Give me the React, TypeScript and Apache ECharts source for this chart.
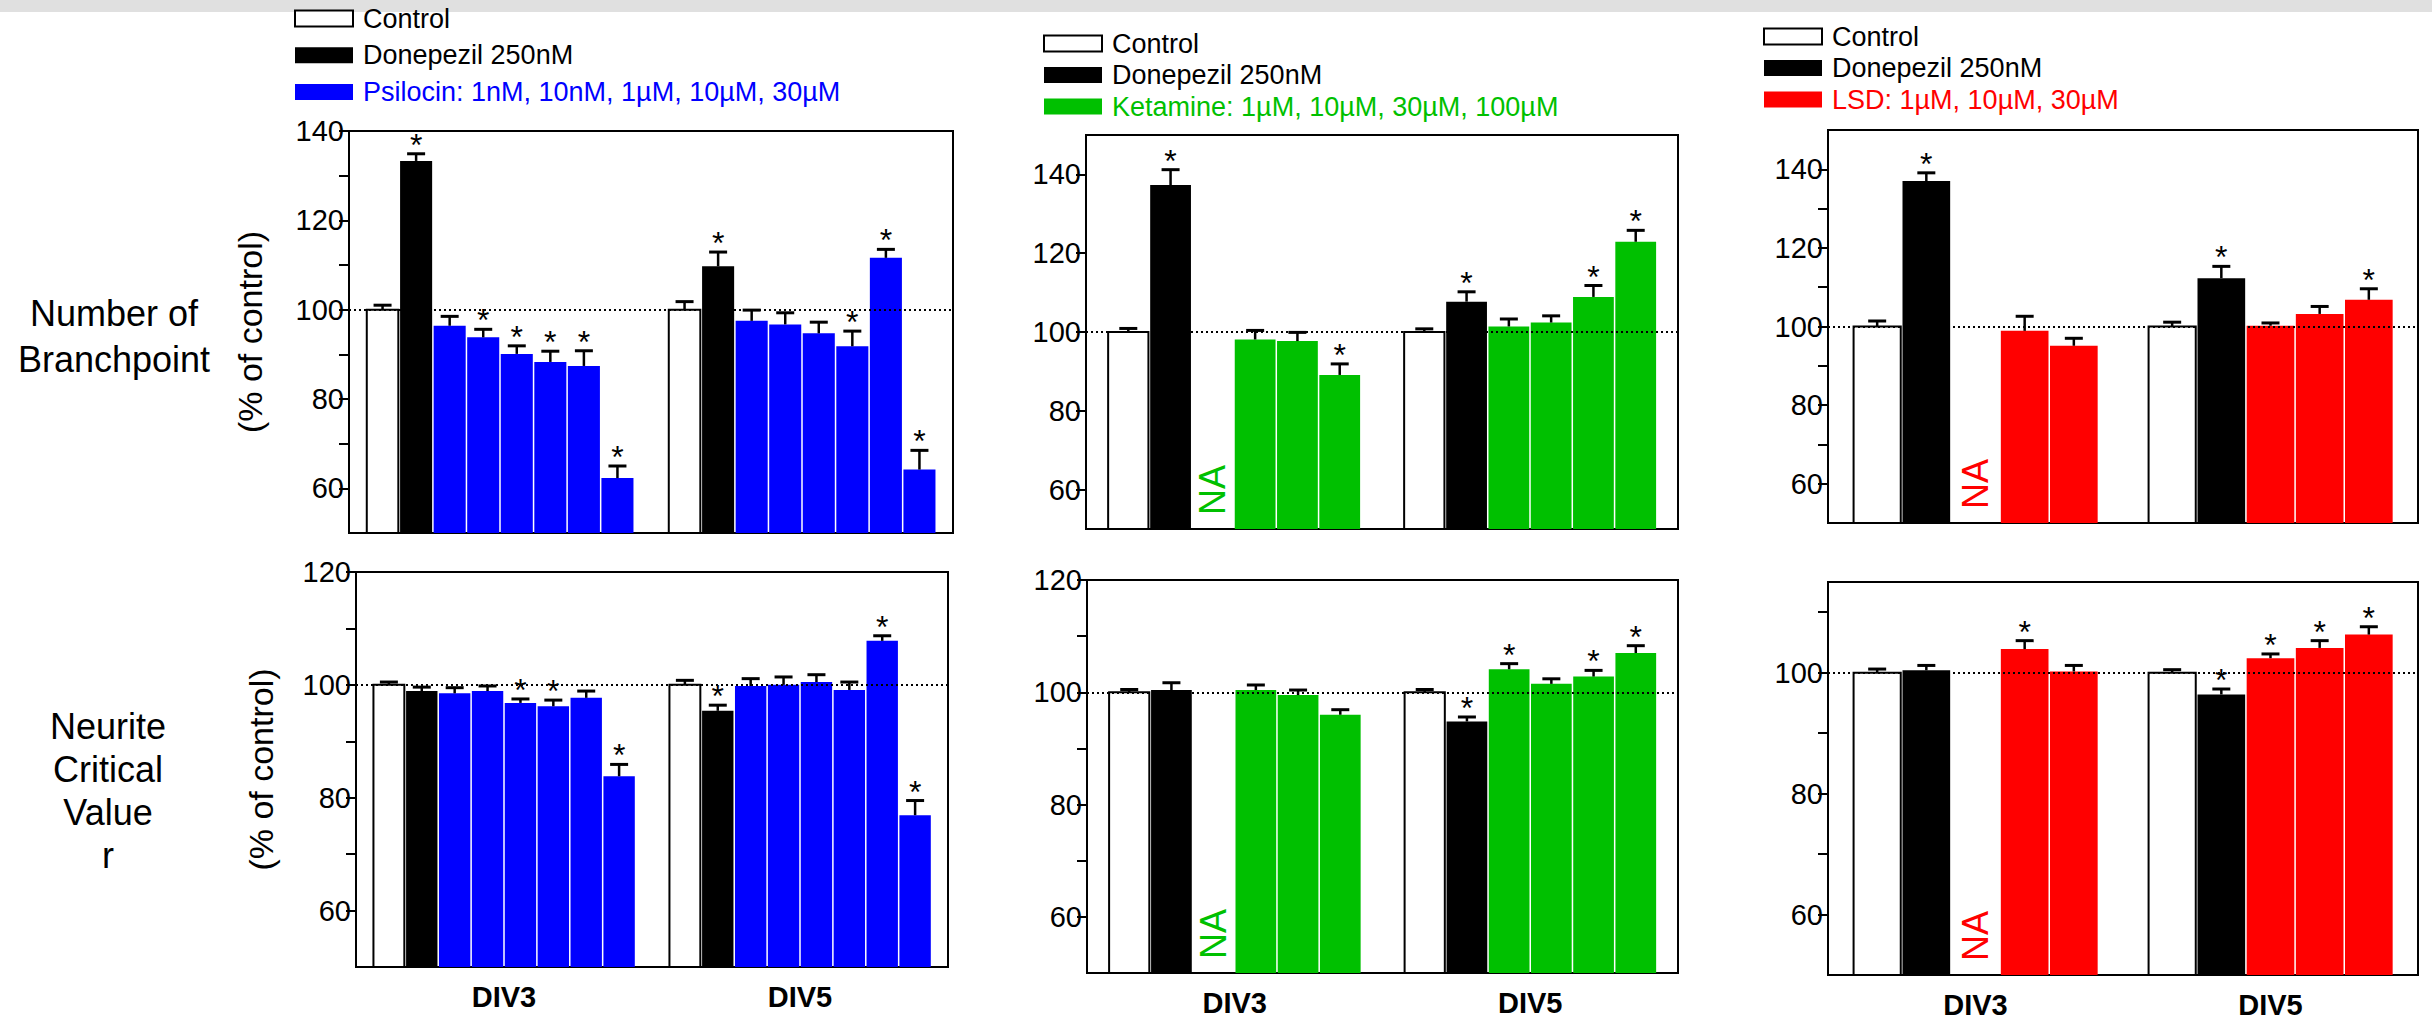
import React, { useEffect, useRef } from 'react';
import * as echarts from 'echarts';

const FONT = 'Liberation Sans, Arial, Helvetica, sans-serif';

// ---- text ----
const groupLabels = ['DIV3', 'DIV5'];
const legendControl = 'Control';
const legendDonepezil = 'Donepezil 250nM';
const legendPsilocin = 'Psilocin: 1nM, 10nM, 1µM, 10µM, 30µM';
const legendKetamine = 'Ketamine: 1µM, 10µM, 30µM, 100µM';
const legendLSD = 'LSD: 1µM, 10µM, 30µM';
const rowLabelTop = 'Number of\nBranchpoint';
const rowLabelBottom = 'Neurite\nCritical\nValue\nr';
const yAxisTitle = '(% of control)';
const naText = 'NA';

// ---- colours ----
const BLUE = '#0000ff';
const GREEN = '#00c000';
const RED = '#ff0000';

// ---- tick values ----
const ticksBranchPsi = [60, 70, 80, 90, 100, 110, 120, 130, 140];
const labelsBranchPsi = [60, 80, 100, 120, 140];
const ticksBranchKet = [60, 80, 100, 120, 140];
const labelsBranchKet = [60, 80, 100, 120, 140];
const ticksBranchLsd = [60, 70, 80, 90, 100, 110, 120, 130, 140];
const labelsBranchLsd = [60, 80, 100, 120, 140];
const ticksNcv = [60, 70, 80, 90, 100, 110, 120];
const labelsNcv = [60, 80, 100, 120];
const ticksNcvLsd = [60, 70, 80, 90, 100, 110];
const labelsNcvLsd = [60, 80, 100];

// ---- Psilocin: number of branchpoints ----
const psiBranchDIV3 = [100, 133.3, 96.4, 93.8, 90.1, 88.3, 87.4, 62.3];
const psiBranchDIV3Err = [1.0, 1.6, 2.1, 1.8, 1.8, 2.4, 3.4, 2.7];
const psiBranchDIV3Sig = [0, 1, 0, 1, 1, 1, 1, 1];
const psiBranchDIV5 = [100, 109.7, 97.5, 96.7, 94.7, 91.8, 111.6, 64.2];
const psiBranchDIV5Err = [1.8, 3.2, 2.4, 2.6, 2.5, 3.4, 1.9, 4.3];
const psiBranchDIV5Sig = [0, 1, 0, 0, 0, 1, 1, 1];

// ---- Psilocin: neurite critical value ----
const psiNcvDIV3 = [100, 98.9, 98.5, 98.9, 96.8, 96.2, 97.7, 83.8];
const psiNcvDIV3Err = [0.5, 0.7, 1.0, 0.9, 0.7, 1.1, 1.2, 2.1];
const psiNcvDIV3Sig = [0, 0, 0, 0, 1, 1, 0, 1];
const psiNcvDIV5 = [100, 95.4, 99.8, 100.0, 100.5, 99.1, 107.8, 76.9];
const psiNcvDIV5Err = [0.8, 1.0, 1.3, 1.4, 1.3, 1.4, 0.9, 2.6];
const psiNcvDIV5Sig = [0, 1, 0, 0, 0, 0, 1, 1];

// ---- Ketamine: number of branchpoints (null = NA) ----
const ketBranchDIV3 = [100, 137.3, null, 98.1, 97.7, 89.1];
const ketBranchDIV3Err = [0.9, 3.9, 0, 2.3, 2.2, 2.8];
const ketBranchDIV3Sig = [0, 1, 0, 0, 0, 1];
const ketBranchDIV5 = [100, 107.7, 101.4, 102.4, 108.9, 122.9];
const ketBranchDIV5Err = [0.8, 2.5, 1.9, 1.7, 2.9, 2.9];
const ketBranchDIV5Sig = [0, 1, 0, 0, 1, 1];

// ---- Ketamine: neurite critical value ----
const ketNcvDIV3 = [100, 100.4, null, 100.4, 99.5, 96.0];
const ketNcvDIV3Err = [0.5, 1.3, 0, 0.9, 0.9, 0.9];
const ketNcvDIV3Sig = [0, 0, 0, 0, 0, 0];
const ketNcvDIV5 = [100, 94.8, 104.1, 101.5, 102.8, 107.0];
const ketNcvDIV5Err = [0.5, 0.8, 1.0, 0.9, 1.1, 1.3];
const ketNcvDIV5Sig = [0, 1, 1, 0, 1, 1];

// ---- LSD: number of branchpoints ----
const lsdBranchDIV3 = [100, 137.0, null, 98.9, 95.1];
const lsdBranchDIV3Err = [1.4, 2.1, 0, 3.7, 1.9];
const lsdBranchDIV3Sig = [0, 1, 0, 0, 0];
const lsdBranchDIV5 = [100, 112.3, 100.2, 103.2, 106.8];
const lsdBranchDIV5Err = [1.1, 3.0, 0.7, 1.9, 2.8];
const lsdBranchDIV5Sig = [0, 1, 0, 0, 1];

// ---- LSD: neurite critical value ----
const lsdNcvDIV3 = [100, 100.4, null, 103.9, 100.2];
const lsdNcvDIV3Err = [0.6, 0.8, 0, 1.4, 1.0];
const lsdNcvDIV3Sig = [0, 0, 0, 1, 0];
const lsdNcvDIV5 = [100, 96.4, 102.4, 104.1, 106.3];
const lsdNcvDIV5Err = [0.5, 0.9, 0.7, 1.2, 1.3];
const lsdNcvDIV5Sig = [0, 1, 1, 1, 1];

type Panel = {
  grid: { left: number; top: number; width: number; height: number };
  yMin: number;
  yMax: number;
  ticks: number[];
  labels: number[];
  color: string;
  d3: (number | null)[];
  e3: number[];
  s3: number[];
  d5: (number | null)[];
  e5: number[];
  s5: number[];
  bottom: boolean;
  yName: boolean;
  nameGap?: number;
};

const panels: Panel[] = [
  { grid: { left: 349, top: 131, width: 604, height: 402 }, yMin: 50, yMax: 140, ticks: ticksBranchPsi, labels: labelsBranchPsi, color: BLUE,
    d3: psiBranchDIV3, e3: psiBranchDIV3Err, s3: psiBranchDIV3Sig, d5: psiBranchDIV5, e5: psiBranchDIV5Err, s5: psiBranchDIV5Sig, bottom: false, yName: true, nameGap: 82 },
  { grid: { left: 1086, top: 135, width: 592, height: 394 }, yMin: 50, yMax: 150, ticks: ticksBranchKet, labels: labelsBranchKet, color: GREEN,
    d3: ketBranchDIV3, e3: ketBranchDIV3Err, s3: ketBranchDIV3Sig, d5: ketBranchDIV5, e5: ketBranchDIV5Err, s5: ketBranchDIV5Sig, bottom: false, yName: false },
  { grid: { left: 1828, top: 130, width: 590, height: 393 }, yMin: 50, yMax: 150, ticks: ticksBranchLsd, labels: labelsBranchLsd, color: RED,
    d3: lsdBranchDIV3, e3: lsdBranchDIV3Err, s3: lsdBranchDIV3Sig, d5: lsdBranchDIV5, e5: lsdBranchDIV5Err, s5: lsdBranchDIV5Sig, bottom: false, yName: false },
  { grid: { left: 356, top: 572, width: 592, height: 395 }, yMin: 50, yMax: 120, ticks: ticksNcv, labels: labelsNcv, color: BLUE,
    d3: psiNcvDIV3, e3: psiNcvDIV3Err, s3: psiNcvDIV3Sig, d5: psiNcvDIV5, e5: psiNcvDIV5Err, s5: psiNcvDIV5Sig, bottom: true, yName: true, nameGap: 78 },
  { grid: { left: 1087, top: 580, width: 591, height: 393 }, yMin: 50, yMax: 120, ticks: ticksNcv, labels: labelsNcv, color: GREEN,
    d3: ketNcvDIV3, e3: ketNcvDIV3Err, s3: ketNcvDIV3Sig, d5: ketNcvDIV5, e5: ketNcvDIV5Err, s5: ketNcvDIV5Sig, bottom: true, yName: false },
  { grid: { left: 1828, top: 582, width: 590, height: 394 }, yMin: 50, yMax: 115, ticks: ticksNcvLsd, labels: labelsNcvLsd, color: RED,
    d3: lsdNcvDIV3, e3: lsdNcvDIV3Err, s3: lsdNcvDIV3Sig, d5: lsdNcvDIV5, e5: lsdNcvDIV5Err, s5: lsdNcvDIV5Sig, bottom: true, yName: false },
];

function buildData(p: Panel) {
  const n = p.d3.length;
  const out: number[][] = [];
  p.d3.forEach((v, i) => out.push([1 + i, v == null ? p.yMin : v, p.e3[i], p.s3[i], i, v == null ? 1 : 0]));
  p.d5.forEach((v, i) => out.push([n + 2 + i, v == null ? p.yMin : v, p.e5[i], p.s5[i], i, v == null ? 1 : 0]));
  return out;
}

function makeRenderItem(p: Panel) {
  return (params: any, api: any) => {
    const x = api.value(0);
    const v = api.value(1);
    const err = api.value(2);
    const sig = api.value(3);
    const k = api.value(4);
    const na = api.value(5);
    const base = api.coord([x, p.yMin]);
    if (na) {
      return {
        type: 'text',
        x: base[0],
        y: base[1] - 14,
        rotation: Math.PI / 2,
        style: { text: naText, fill: p.color, fontSize: 36, fontFamily: FONT, align: 'left', verticalAlign: 'middle' },
      };
    }
    const tl = api.coord([x - 0.5, v]);
    const br = api.coord([x + 0.5, p.yMin]);
    const cx = (tl[0] + br[0]) / 2;
    const top = tl[1];
    const capY = api.coord([x, v + err])[1];
    const children: any[] = [];
    if (k === 0) {
      children.push({ type: 'rect', shape: { x: tl[0] + 1, y: top, width: br[0] - tl[0] - 2, height: br[1] - top },
        style: { fill: '#fff', stroke: '#000', lineWidth: 2 } });
    } else {
      children.push({ type: 'rect', shape: { x: tl[0] + 0.75, y: top, width: br[0] - tl[0] - 1.5, height: br[1] - top },
        style: { fill: k === 1 ? '#000' : p.color } });
    }
    children.push({ type: 'line', shape: { x1: cx, y1: top, x2: cx, y2: capY }, style: { stroke: '#000', lineWidth: 2.5 } });
    children.push({ type: 'line', shape: { x1: cx - 9, y1: capY, x2: cx + 9, y2: capY }, style: { stroke: '#000', lineWidth: 3 } });
    if (sig) {
      children.push({ type: 'text', x: cx, y: capY - 9,
        style: { text: '*', fill: '#000', fontSize: 32, fontFamily: FONT, align: 'center', verticalAlign: 'middle' } });
    }
    return { type: 'group', children };
  };
}

function buildOption() {
  const grid: any[] = [];
  const xAxis: any[] = [];
  const yAxis: any[] = [];
  const series: any[] = [];
  panels.forEach((p, i) => {
    const n = p.d3.length;
    const xMax = 2 * n + 2;
    grid.push({ ...p.grid, show: true, borderColor: '#000', borderWidth: 2, containLabel: false });
    xAxis.push({
      type: 'value', gridIndex: i, min: 0, max: xMax,
      axisLine: { show: true, lineStyle: { color: '#000', width: 2 } },
      axisTick: { show: false },
      splitLine: { show: false },
      axisLabel: {
        show: p.bottom,
        customValues: [(n + 1) / 2, (3 * n + 3) / 2],
        formatter: (val: number) => (val < n + 1 ? groupLabels[0] : groupLabels[1]),
        fontSize: 29, fontWeight: 'bold', fontFamily: FONT, color: '#000', margin: 15,
      },
    });
    yAxis.push({
      type: 'value', gridIndex: i, min: p.yMin, max: p.yMax,
      name: p.yName ? yAxisTitle : '',
      nameLocation: 'middle', nameRotate: 90, nameGap: p.nameGap || 78,
      nameTextStyle: { fontSize: 34, fontFamily: FONT, color: '#000' },
      axisLine: { show: true, lineStyle: { color: '#000', width: 2 } },
      axisTick: { show: true, customValues: p.ticks, length: 10, lineStyle: { color: '#000', width: 2 } },
      axisLabel: { customValues: p.labels, fontSize: 29, fontFamily: FONT, color: '#000', margin: 5 },
      splitLine: { show: false },
    });
    series.push({
      type: 'line', xAxisIndex: i, yAxisIndex: i, data: [], z: 1, silent: true,
      markLine: {
        silent: true, symbol: 'none', label: { show: false },
        lineStyle: { type: [2, 3], color: '#000', width: 2 },
        data: [{ yAxis: 100 }],
      },
    });
    series.push({
      type: 'custom', xAxisIndex: i, yAxisIndex: i, z: 3, silent: true, clip: false,
      renderItem: makeRenderItem(p),
      encode: { x: 0, y: 1 },
      data: buildData(p),
    });
  });

  // series used only as legend entries
  const legendSeries = [
    { name: legendControl, itemStyle: { color: '#fff', borderColor: '#000', borderWidth: 2 } },
    { name: legendDonepezil, itemStyle: { color: '#000' } },
    { name: legendPsilocin, itemStyle: { color: BLUE } },
    { name: legendKetamine, itemStyle: { color: GREEN } },
    { name: legendLSD, itemStyle: { color: RED } },
  ];
  legendSeries.forEach((s) => series.push({ type: 'bar', xAxisIndex: 0, yAxisIndex: 0, data: [], ...s }));

  const legendBase = {
    orient: 'vertical', padding: 0, itemWidth: 58, itemHeight: 16, icon: 'rect', selectedMode: false,
    textStyle: { fontSize: 27, lineHeight: 27, fontFamily: FONT, color: '#000', padding: [0, 0, 0, 5] },
  };
  const ctrlItem = { name: legendControl, itemStyle: { color: '#fff', borderColor: '#000', borderWidth: 2 } };
  const donItem = { name: legendDonepezil };
  const legend = [
    { ...legendBase, left: 294, top: 5, itemGap: 9.7, data: [ctrlItem, donItem, { name: legendPsilocin, textStyle: { color: BLUE } }] },
    { ...legendBase, left: 1043, top: 30, itemGap: 4.5, data: [ctrlItem, donItem, { name: legendKetamine, textStyle: { color: GREEN } }] },
    { ...legendBase, left: 1763, top: 23, itemGap: 4.5, data: [ctrlItem, donItem, { name: legendLSD, textStyle: { color: RED } }] },
  ];

  return {
    animation: false,
    backgroundColor: '#fff',
    grid, xAxis, yAxis, series, legend,
    graphic: [
      { type: 'rect', left: 0, top: 0, z: -10, shape: { width: 2432, height: 12 }, style: { fill: '#e0e0e0' } },
      { type: 'text', x: 114, y: 336, style: { text: rowLabelTop, fontSize: 36, lineHeight: 46, fontFamily: FONT, fill: '#000', align: 'center', verticalAlign: 'middle' } },
      { type: 'text', x: 108, y: 791, style: { text: rowLabelBottom, fontSize: 36, lineHeight: 43, fontFamily: FONT, fill: '#000', align: 'center', verticalAlign: 'middle' } },
    ],
  };
}

export default function App() {
  const ref = useRef<HTMLDivElement>(null);
  useEffect(() => {
    if (!ref.current) return;
    const chart = echarts.init(ref.current, null, { renderer: 'svg' });
    chart.setOption(buildOption() as any);
    return () => chart.dispose();
  }, []);
  return <div ref={ref} style={{ position: 'absolute', left: 0, top: 0, width: 2432, height: 1019 }} />;
}
